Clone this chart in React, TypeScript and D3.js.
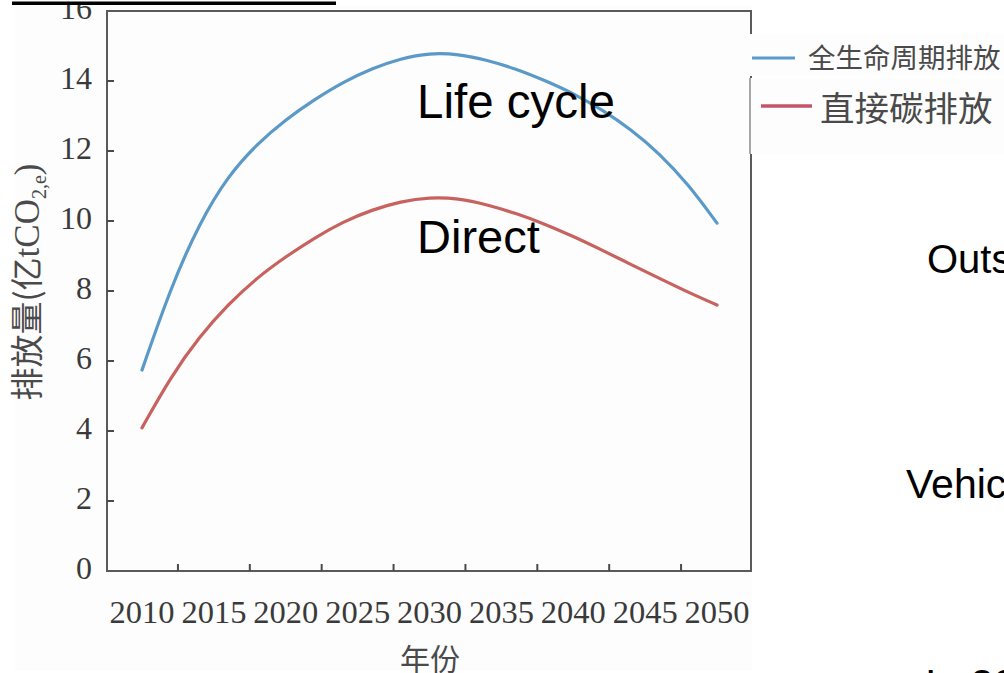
import React from "react";
import * as d3 from "d3";

const years = [2010, 2012, 2014, 2016, 2018, 2020, 2022, 2024, 2026, 2028, 2030, 2032, 2034, 2036, 2038, 2040, 2042, 2044, 2046, 2048, 2050];
const lifeCycle = [5.74, 8.1, 9.95, 11.3, 12.2, 12.9, 13.47, 13.97, 14.36, 14.64, 14.8, 14.77, 14.6, 14.35, 14.02, 13.65, 13.18, 12.62, 11.93, 11.05, 9.94];
const direct = [4.09, 5.55, 6.7, 7.62, 8.38, 8.98, 9.52, 9.98, 10.32, 10.56, 10.68, 10.65, 10.47, 10.22, 9.92, 9.56, 9.17, 8.76, 8.36, 7.96, 7.6];
const xTickLabels = [2010, 2015, 2020, 2025, 2030, 2035, 2040, 2045, 2050];
const xTickMarks = [2012.5, 2017.5, 2022.5, 2027.5, 2032.5, 2037.5, 2042.5, 2047.5];
const yTicks = [0, 2, 4, 6, 8, 10, 12, 14, 16];
const legendLabels = ["全生命周期排放", "直接碳排放"];
const overlayLabels = ["Life cycle", "Direct"];
const sideLabels = ["Outside", "Vehicle", "In 2030"];

const W = 1004;
const H = 673;

export default function App() {
  const x = d3.scaleLinear().domain([2010, 2050]).range([142, 717]);
  const y = d3.scaleLinear().domain([0, 16]).range([571, 11]);
  const frameL = 107;
  const frameR = 751;
  const frameT = y(16);
  const frameB = y(0);

  const line = d3
    .line<number>()
    .x((_, i) => x(years[i]))
    .y((d) => y(d))
    .curve(d3.curveBasis);

  const serif = "'Liberation Serif', 'Times New Roman', serif";
  const cjk = "'Noto Sans CJK SC', 'Noto Sans', sans-serif";
  const sans = "'Liberation Sans', Arial, sans-serif";

  return (
    <div style={{ position: "fixed", left: 0, top: 0, width: W, height: H, overflow: "hidden", background: "#fff" }}>
      <svg width={W} height={H} style={{ display: "block" }}>
        <defs>
          <clipPath id="chartClip">
            <rect x={0} y={5} width={W} height={H - 5} />
          </clipPath>
        </defs>
        <rect x={0} y={0} width={W} height={H} fill="#ffffff" />
        <g clipPath="url(#chartClip)">
          <rect x={15} y={5} width={737} height={666} fill="#fdfdfd" />
          {/* frame */}
          <rect x={frameL} y={frameT} width={frameR - frameL} height={frameB - frameT} fill="none" stroke="#5a5a5a" strokeWidth={2} />
          {/* y ticks */}
          {yTicks.map((t) => (
            <g key={"y" + t}>
              {t > 0 && t < 16 && (
                <line x1={frameL} x2={frameL + 7} y1={y(t)} y2={y(t)} stroke="#4a4a4a" strokeWidth={2} />
              )}
              <text x={92} y={y(t) + 8} textAnchor="end" fontFamily={serif} fontSize={32} fill="#3a3a3a">
                {t}
              </text>
            </g>
          ))}
          {/* x ticks */}
          {xTickMarks.map((t) => (
            <line key={"xm" + t} x1={x(t)} x2={x(t)} y1={frameB} y2={frameB - 7} stroke="#4a4a4a" strokeWidth={2} />
          ))}
          {xTickLabels.map((t) => (
            <text key={"xl" + t} x={x(t)} y={623} textAnchor="middle" fontFamily={serif} fontSize={32.5} fill="#3a3a3a">
              {t}
            </text>
          ))}
          <text x={430} y={670} textAnchor="middle" fontFamily={cjk} fontSize={30} fill="#4a4a4a">
            年份
          </text>
          <text
            transform="translate(39,282) rotate(-90)"
            textAnchor="middle"
            fontFamily={serif}
            fontSize={35}
            fill="#4a4a4a"
          >
            <tspan fontFamily={cjk} fontSize={33}>排放量(亿</tspan>
            <tspan>tCO</tspan>
            <tspan fontSize={20} dy={7}>2,e</tspan>
            <tspan dy={-7}>)</tspan>
          </text>
          {/* lines */}
          <path d={line(lifeCycle) || ""} fill="none" stroke="#5b9ac6" strokeWidth={3.2} strokeLinecap="round" />
          <path d={line(direct) || ""} fill="none" stroke="#c8625f" strokeWidth={3.2} strokeLinecap="round" />
        </g>
        {/* top rule */}
        <rect x={12} y={1.5} width={324} height={3.5} fill="#000" />
        {/* legend */}
        <rect x={745} y={34} width={259} height={42} fill="#fdfdfd" />
        <line x1={752} x2={795} y1={58} y2={58} stroke="#5b9bd0" strokeWidth={3} />
        <text x={808} y={68} fontFamily={cjk} fontSize={27.5} fill="#4a4a4a">
          {legendLabels[0]}
        </text>
        <rect x={750} y={78} width={254} height={76} fill="#fdfdfd" />
        <line x1={750} x2={750} y1={78} y2={154} stroke="#8a8a8a" strokeWidth={1.5} />
        <line x1={761} x2={812} y1={106} y2={106} stroke="#c4546a" strokeWidth={3.5} />
        <text x={820} y={121} fontFamily={cjk} fontSize={34.5} fill="#4a4a4a">
          {legendLabels[1]}
        </text>
        {/* overlay labels */}
        <text x={417} y={118} fontFamily={sans} fontSize={47.5} fill="#000">
          {overlayLabels[0]}
        </text>
        <text x={417} y={253} fontFamily={sans} fontSize={47} fill="#000">
          {overlayLabels[1]}
        </text>
        <text x={927} y={273} fontFamily={sans} fontSize={40} fill="#000">
          {sideLabels[0]}
        </text>
        <text x={906} y={498} fontFamily={sans} fontSize={41} fill="#000">
          {sideLabels[1]}
        </text>
        <text x={925} y={698} fontFamily={sans} fontSize={41} fill="#000">
          {sideLabels[2]}
        </text>
      </svg>
    </div>
  );
}
